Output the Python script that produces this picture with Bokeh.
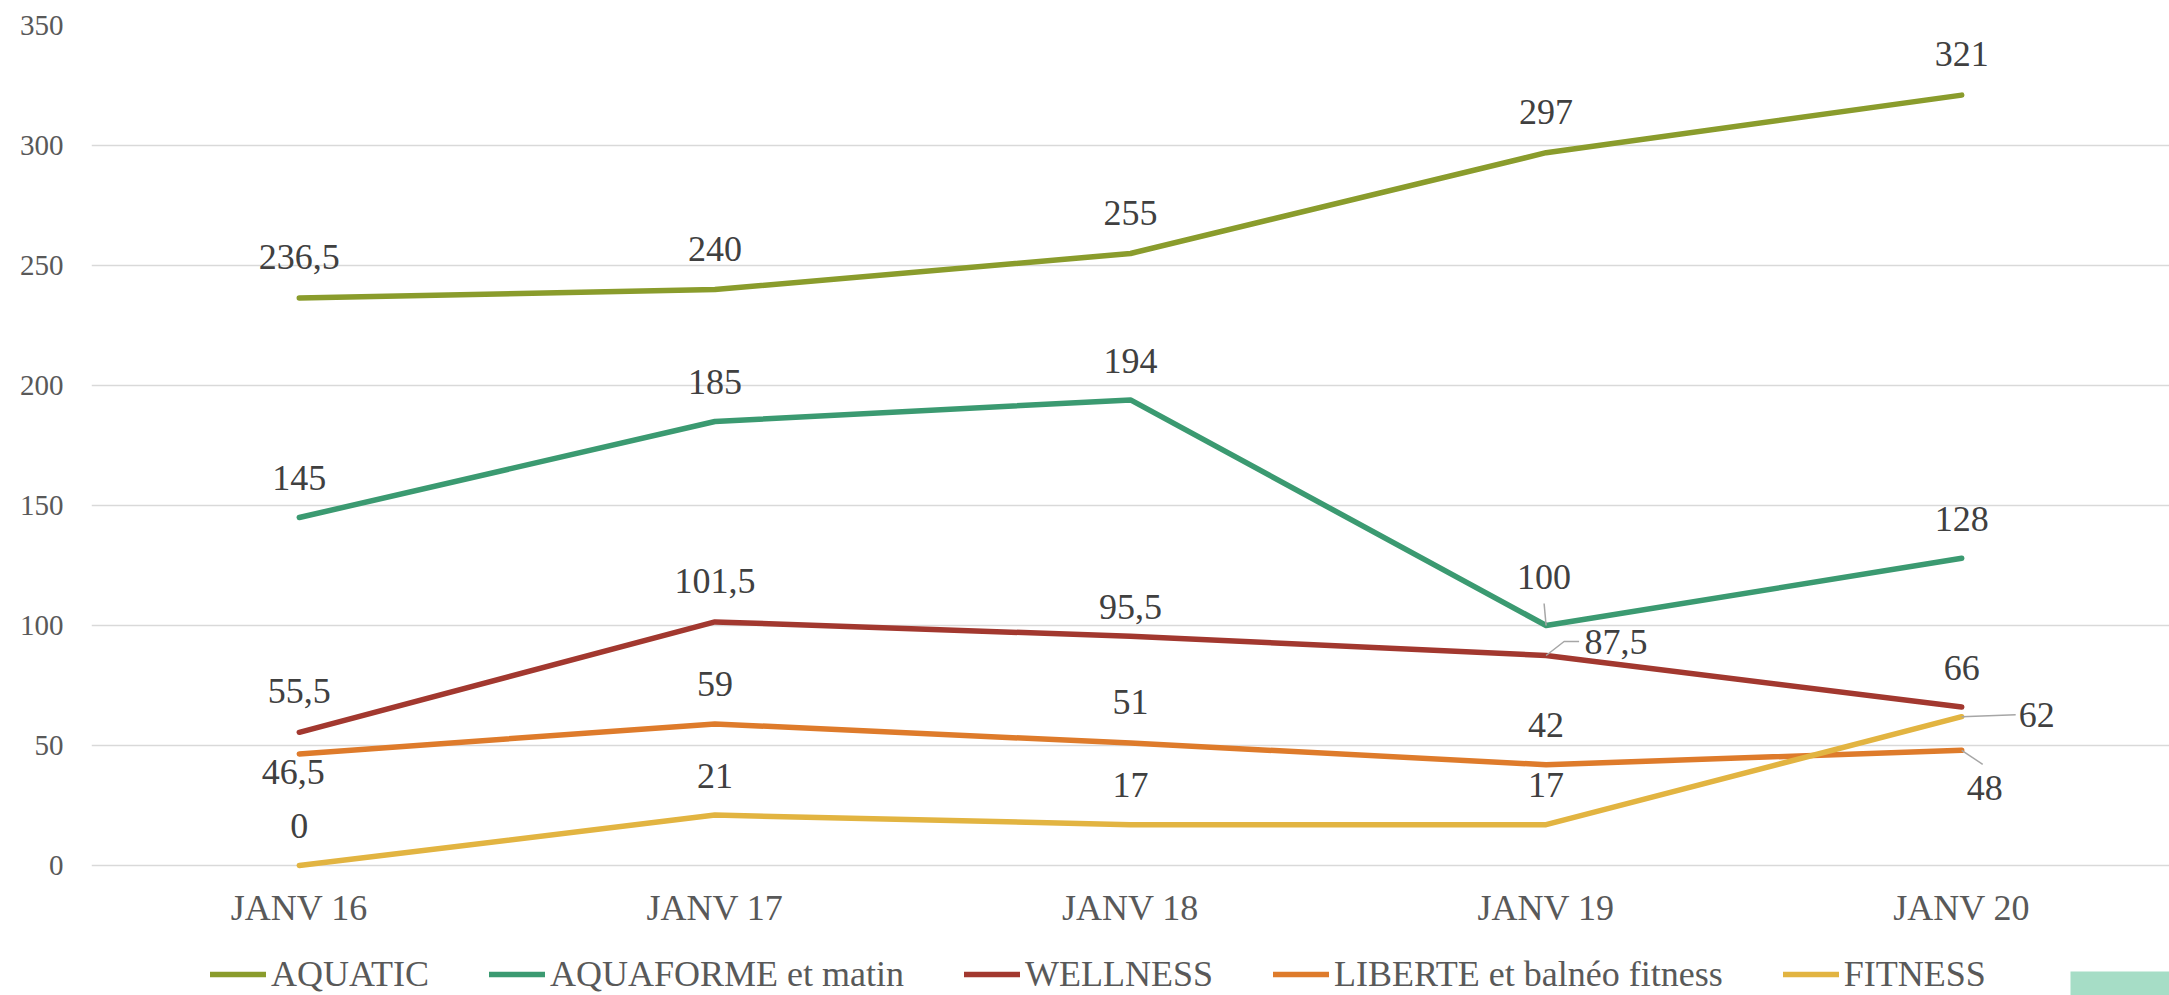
from bokeh.plotting import figure
from bokeh.models import ColumnDataSource, Legend, LegendItem, Range1d, BoxAnnotation
from bokeh.core.properties import value
from bokeh.embed import file_html
from bokeh.resources import INLINE

# ---------------- data ----------------
periods = ["JANV 16", "JANV 17", "JANV 18", "JANV 19", "JANV 20"]
series_names = ["AQUATIC", "AQUAFORME et matin", "WELLNESS",
                "LIBERTE et balnéo fitness", "FITNESS"]
aquatic = [236.5, 240, 255, 297, 321]
aquaforme = [145, 185, 194, 100, 128]
wellness = [55.5, 101.5, 95.5, 87.5, 66]
liberte = [46.5, 59, 51, 42, 48]
fitness = [0, 21, 17, 17, 62]
y_ticks = [0, 50, 100, 150, 200, 250, 300, 350]

series_values = [aquatic, aquaforme, wellness, liberte, fitness]

# ---------------- styles / layout ----------------
colors = ["#8a9c2c", "#3b9a71", "#a2382f", "#de7b2b", "#e2b441"]
FONT = "Liberation Serif"
W, H = 2169, 995
BL, BR, BT = 91, 0, 25
PLOT_BOTTOM_GAP = 130          # px between value 0 and the canvas bottom
frame_w = W - BL - BR
frame_h = H - BT
Y_MAX = 350
px_per_unit = (frame_h - PLOT_BOTTOM_GAP) / Y_MAX
Y_MIN = -PLOT_BOTTOM_GAP / px_per_unit
px_per_cat = frame_w / len(periods)

# label visual-centre offsets (px, +y = down) relative to the data point
label_offsets = [
    [(0, -40), (0, -40), (0, -40), (0, -40), (0, -40)],
    [(0, -39), (0, -39), (0, -38), (-2, -48), (0, -38)],
    [(0, -40), (0, -40), (0, -28), (70, -13), (0, -38)],
    [(-6, 19), (0, -39), (0, -40), (0, -39), (23, 39)],
    [(0, -39), (0, -38), (0, -39), (0, -39), (75, -1)],
]
# leader lines: (series, period, path in px offsets, +y = down)
leaders = [
    (1, 3, [(0, 0), (-2, -22)]),
    (2, 3, [(0, 0), (18, -14), (33, -14)]),
    (4, 4, [(0, 0), (54, -2)]),
    (3, 4, [(0, 0), (21, 14)]),
]


def fmt(v):
    return f"{v:g}".replace(".", ",")


p = figure(width=W, height=H, x_range=periods, y_range=Range1d(Y_MIN, Y_MAX),
           output_backend="svg", toolbar_location=None,
           min_border_left=BL, min_border_right=BR,
           min_border_top=BT, min_border_bottom=0)
p.outline_line_color = None
p.background_fill_color = "white"
p.border_fill_color = "white"

p.xgrid.visible = False
p.ygrid.grid_line_color = "#d9d9d9"
p.ygrid.grid_line_width = 1.5

p.yaxis.ticker = y_ticks
for ax in (p.xaxis[0], p.yaxis[0]):
    ax.axis_line_color = None
    ax.major_tick_line_color = None
    ax.minor_tick_line_color = None
    ax.major_tick_in = 0
    ax.major_tick_out = 0
    ax.minor_tick_in = 0
    ax.minor_tick_out = 0
    ax.major_label_text_font = FONT
    ax.major_label_text_color = "#595959"
p.yaxis.major_label_text_font_size = "29px"
p.yaxis.major_label_standoff = 28
p.xaxis.major_label_text_font_size = "36px"
p.xaxis.major_label_standoff = 22
p.xaxis.fixed_location = 0

renderers = []
for vals, col in zip(series_values, colors):
    r = p.line(periods, vals, line_width=5.5, line_color=col,
               line_cap="round", line_join="round")
    renderers.append(r)

# leader lines
for si, pi, path in leaders:
    base = series_values[si][pi]
    xs = [(periods[pi], dx / px_per_cat) for dx, dy in path]
    ys = [base - dy / px_per_unit for dx, dy in path]
    p.line(xs, ys, line_color="#a6a6a6", line_width=1.5)

# data labels
lx, ly, lt, ldx, ldy = [], [], [], [], []
for si, vals in enumerate(series_values):
    for pi, v in enumerate(vals):
        dx, dy = label_offsets[si][pi]
        lx.append(periods[pi])
        ly.append(v)
        lt.append(fmt(v))
        ldx.append(dx)
        ldy.append(dy - 1)
src = ColumnDataSource(dict(x=lx, y=ly, t=lt, dx=ldx, dy=ldy))
p.text(x="x", y="y", text="t", x_offset="dx", y_offset="dy", source=src,
       text_font=value(FONT), text_font_size="36px", text_color="#404040",
       text_align="center", text_baseline="alphabetic")

legend = Legend(items=[LegendItem(label=n, renderers=[r])
                       for n, r in zip(series_names, renderers)],
                orientation="horizontal", location=(119, 0),
                padding=0, margin=0, spacing=60,
                glyph_width=56, glyph_height=20, label_standoff=5,
                label_text_font="'Liberation Serif', serif",
                label_text_font_size="36px",
                label_text_color="#595959",
                border_line_color=None, background_fill_alpha=0)
p.add_layout(legend)

p.add_layout(BoxAnnotation(left=2070, right=2169, top=971, bottom=995,
                           left_units="canvas", right_units="canvas",
                           top_units="canvas", bottom_units="canvas",
                           fill_color="#a6ddc6", fill_alpha=1, line_color=None))

open("out.html", "w").write(file_html(p, INLINE))
